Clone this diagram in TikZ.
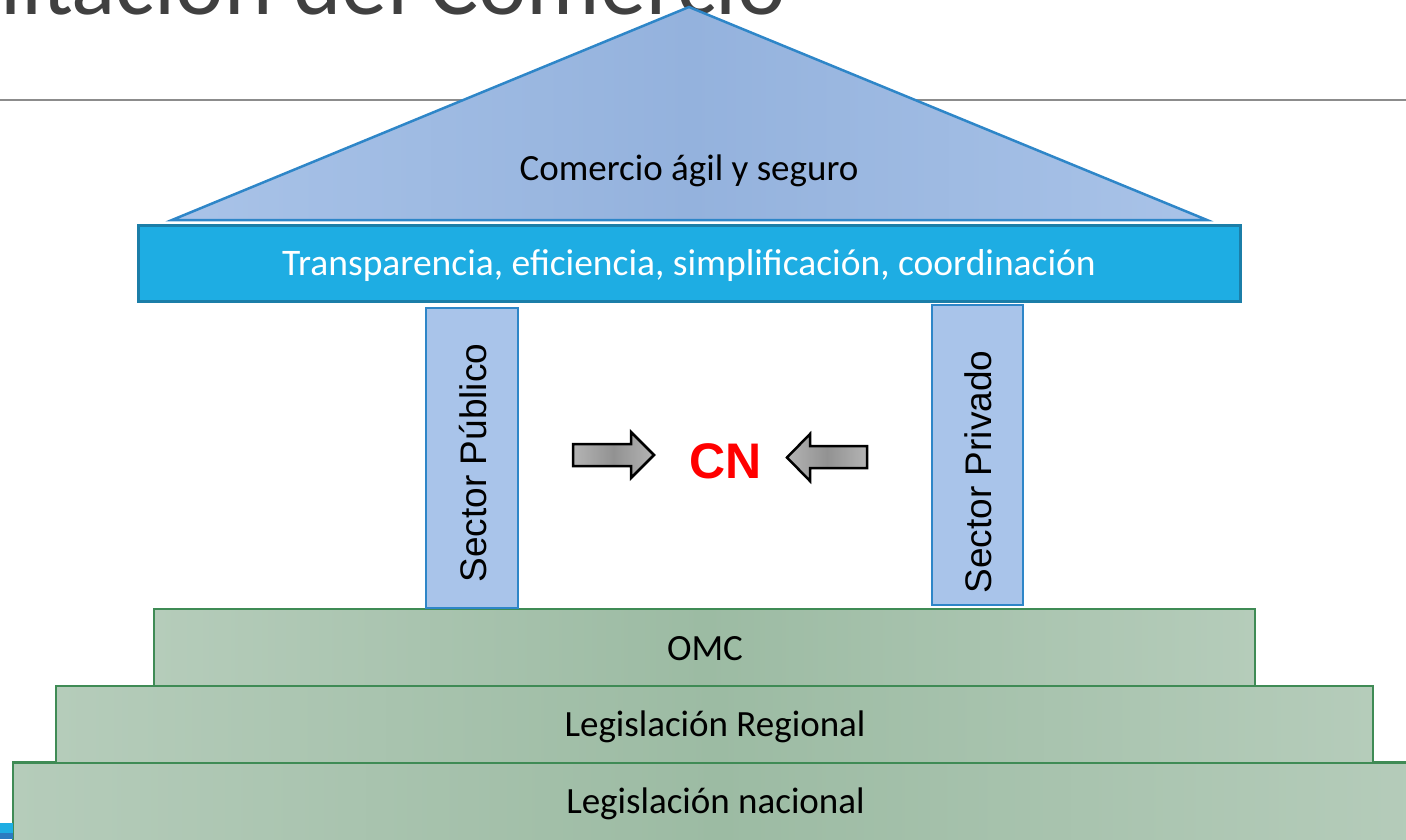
\documentclass[tikz,border=0pt]{standalone}
\usepackage{fontspec}
\setmainfont{Carlito}
\newfontfamily\arialfont{Liberation Sans}
\definecolor{titlegray}{HTML}{404040}
\definecolor{rulegray}{HTML}{8C8C8C}
\definecolor{roofedge}{HTML}{A9C3E8}
\definecolor{roofmid}{HTML}{94B2DD}
\definecolor{roofline}{HTML}{2E86C8}
\definecolor{beamfill}{HTML}{1EADE3}
\definecolor{beamline}{HTML}{1B7EA8}
\definecolor{pillarfill}{HTML}{A9C4EA}
\definecolor{greenedge}{HTML}{B5CCBA}
\definecolor{greenmid}{HTML}{9CBBA3}
\definecolor{greenline}{HTML}{3F8B55}
\definecolor{arrowedge}{HTML}{B4B4B4}
\definecolor{arrowmid}{HTML}{929292}
\definecolor{cnred}{HTML}{FF0000}
\definecolor{cornerblue}{HTML}{2B7BC0}
\tikzset{
  roofshape/.style={left color=roofedge, right color=roofedge, middle color=roofmid, draw=roofline, line width=2.5pt, line join=miter},
  beambox/.style={rectangle, fill=beamfill, draw=beamline, line width=3pt, inner sep=0pt, text=white, font=\fontsize{37.5}{44}\selectfont, text height=24pt, text depth=0pt},
  pillarbox/.style={rectangle, fill=pillarfill, draw=roofline, line width=2.5pt, inner sep=0pt},
  pillartext/.style={rotate=90, inner sep=0pt, font=\arialfont\fontsize{37}{44}\selectfont, text height=26.5pt, text depth=0pt},
  stepbox/.style={rectangle, left color=greenedge, right color=greenedge, middle color=greenmid, draw=greenline, line width=2.5pt, inner sep=0pt},
  steptext/.style={inner sep=0pt, font=\fontsize{37}{44}\selectfont, text height=24pt, text depth=0pt},
  grayarrow/.style={left color=arrowedge, right color=arrowedge, middle color=arrowmid, draw=black, line width=2.5pt, line join=miter},
}
\begin{document}
\begin{tikzpicture}[x=1pt,y=-1pt]
\useasboundingbox (0,0) rectangle (1406,839);
\clip (0,0) rectangle (1406,839);
% title and rule
\node[anchor=base east, inner sep=0pt, text=titlegray, font=\fontsize{92}{100}\selectfont] (title) at (786,14) {Facilitación del Comercio};
\draw[rulegray, line width=1.5pt] (0,100) -- (1406,100);
% roof
\path[roofshape] (172,220) -- (689,7) -- (1207,220) -- cycle;
\node[steptext] (rooftext) at (689,168) {Comercio ágil y seguro};
% beam
\node[beambox, minimum width=1102pt, minimum height=76pt] (beam) at (689,263) {Transparencia, eficiencia, simplificación, coordinación};
% steps
\node[stepbox, minimum width=1410pt, minimum height=80pt] (nacional) at (718,802.5) {};
\node[steptext] (nacionaltext) at (715.5,801) {Legislación nacional};
\node[stepbox, minimum width=1317pt, minimum height=77pt] (regional) at (714.5,724.5) {};
\node[steptext] (regionaltext) at (715,724.5) {Legislación Regional};
\node[stepbox, minimum width=1101pt, minimum height=77pt] (omc) at (704.5,647.5) {};
\node[steptext] (omctext) at (705,648.5) {OMC};
% pillars
\node[pillarbox, minimum width=92pt, minimum height=300pt] (publico) at (472,458) {};
\node[pillartext] (publicotext) at (473,463) {Sector Público};
\node[pillarbox, minimum width=91pt, minimum height=300pt] (privado) at (977.5,455) {};
\node[pillartext] (privadotext) at (978,472) {Sector Privado};
% arrows and CN
\path[grayarrow] (573,444) -- (631,444) -- (631,432) -- (654,455) -- (631,478) -- (631,466) -- (573,466) -- cycle;
\path[grayarrow] (867,446) -- (810,446) -- (810,434) -- (787,457.5) -- (810,481) -- (810,468) -- (867,468) -- cycle;
\node[inner sep=0pt, text=cnred, font=\arialfont\bfseries\fontsize{50}{56}\selectfont, text height=36pt, text depth=0pt] (cn) at (725.5,460) {CN};
% corner mark
\fill[beamfill] (0,823) rectangle (13,839);
\fill[cornerblue] (0,833) rectangle (13,839);
\end{tikzpicture}
\end{document}
